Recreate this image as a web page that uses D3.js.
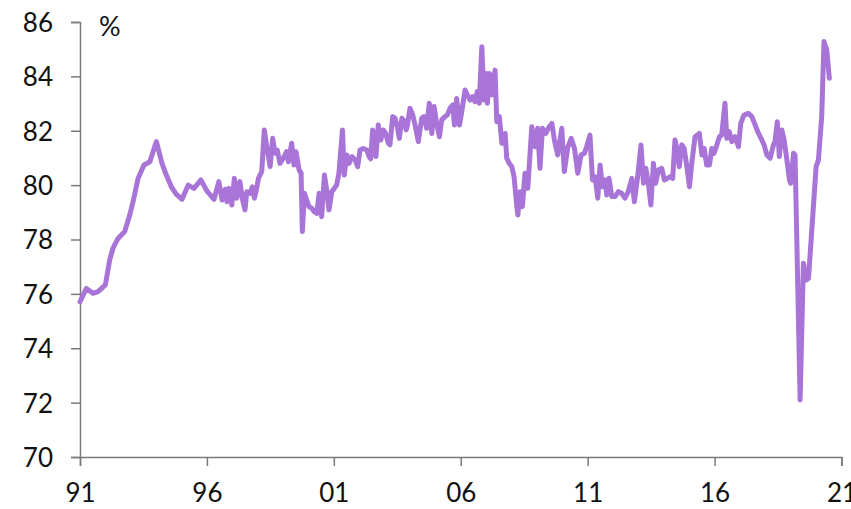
<!DOCTYPE html>
<html>
<head>
<meta charset="utf-8">
<script src="https://cdn.jsdelivr.net/npm/d3@7"></script>
<style>
  html, body { margin: 0; padding: 0; background: #ffffff; }
  svg { display: block; }
  text { font-family: Lato, "Noto Sans", sans-serif; fill: #111; }
</style>
</head>
<body>
<svg id="chart" width="851" height="509"></svg>
<script>
// Time (decimal year) of each vertex of the line
const years = [
  1991.00,1991.25,1991.51,1991.71,1992.00,1992.17,1992.30,1992.50,1992.76,1992.96,
  1993.09,1993.29,1993.52,1993.75,1994.01,1994.23,1994.40,1994.60,1994.79,1995.02,
  1995.26,1995.49,1995.76,1996.02,1996.28,1996.47,1996.60,1996.72,1996.79,1996.87,
  1996.98,1997.08,1997.17,1997.30,1997.39,1997.50,1997.57,1997.70,1997.79,1997.87,
  1997.96,1998.03,1998.16,1998.26,1998.36,1998.49,1998.59,1998.68,1998.77,1998.88,
  1999.01,1999.14,1999.21,1999.34,1999.43,1999.51,1999.63,1999.71,1999.76,1999.84,
  1999.93,2000.02,2000.13,2000.23,2000.33,2000.42,2000.52,2000.63,2000.72,2000.81,
  2000.92,2001.02,2001.11,2001.20,2001.34,2001.41,2001.51,2001.60,2001.71,2001.84,
  2001.94,2002.03,2002.16,2002.30,2002.39,2002.45,2002.53,2002.58,2002.66,2002.75,
  2002.85,2002.95,2003.04,2003.15,2003.21,2003.32,2003.41,2003.50,2003.58,2003.68,
  2003.74,2003.85,2003.90,2004.00,2004.11,2004.20,2004.33,2004.46,2004.55,2004.66,
  2004.76,2004.86,2004.95,2005.05,2005.16,2005.25,2005.38,2005.47,2005.58,2005.69,
  2005.75,2005.84,2005.95,2006.04,2006.17,2006.26,2006.37,2006.47,2006.56,2006.65,
  2006.73,2006.83,2006.92,2007.00,2007.05,2007.13,2007.22,2007.35,2007.42,2007.52,
  2007.62,2007.75,2007.81,2007.91,2008.01,2008.10,2008.21,2008.25,2008.34,2008.43,
  2008.53,2008.64,2008.80,2008.93,2009.03,2009.12,2009.22,2009.35,2009.45,2009.59,
  2009.69,2009.82,2009.98,2010.08,2010.22,2010.35,2010.48,2010.61,2010.74,2010.87,
  2010.96,2011.09,2011.19,2011.29,2011.40,2011.49,2011.58,2011.69,2011.75,2011.84,
  2011.95,2012.08,2012.21,2012.34,2012.47,2012.60,2012.74,2012.84,2012.97,2013.10,
  2013.20,2013.29,2013.39,2013.49,2013.59,2013.68,2013.79,2013.92,2014.02,2014.14,
  2014.25,2014.35,2014.44,2014.53,2014.61,2014.71,2014.80,2014.90,2015.01,2015.10,
  2015.23,2015.32,2015.40,2015.50,2015.59,2015.69,2015.80,2015.89,2015.98,2016.09,
  2016.19,2016.28,2016.41,2016.48,2016.58,2016.68,2016.81,2016.94,2017.03,2017.16,
  2017.33,2017.47,2017.60,2017.73,2017.86,2017.95,2018.06,2018.19,2018.32,2018.38,
  2018.47,2018.55,2018.65,2018.74,2018.85,2018.95,2019.00,2019.11,2019.17,2019.37,
  2019.50,2019.61,2019.70,2019.83,2020.00,2020.09,2020.22,2020.31,2020.42,2020.52
];
// Rate (%) at each vertex
const values = [
  75.71,76.20,76.02,76.08,76.33,77.25,77.68,78.04,78.29,78.90,
  79.39,80.25,80.74,80.86,81.60,80.80,80.37,79.94,79.67,79.48,
  80.00,79.88,80.19,79.76,79.48,80.13,79.45,79.85,79.39,79.88,
  79.27,80.25,79.52,80.13,79.52,79.09,79.76,79.70,79.94,79.52,
  79.88,80.25,80.50,82.03,81.41,80.68,81.72,81.17,81.29,80.80,
  80.99,81.23,80.86,81.54,80.74,81.23,80.56,80.44,78.29,79.70,
  79.45,79.21,79.15,79.02,78.96,79.70,78.84,80.37,79.82,79.09,
  79.76,79.88,80.00,80.44,82.03,80.37,81.11,80.80,81.05,80.92,
  80.68,81.29,81.35,81.29,81.05,80.97,82.03,81.54,81.05,82.21,
  81.66,82.03,81.90,81.54,81.48,82.52,82.46,82.15,81.72,82.46,
  82.40,82.03,82.21,82.83,82.58,82.21,81.60,82.46,82.52,82.09,
  83.01,81.90,82.89,82.27,81.78,82.40,82.52,82.58,82.83,82.95,
  82.21,83.19,82.21,82.70,83.50,83.32,83.13,83.25,83.07,83.44,
  83.01,85.09,83.13,84.11,83.01,84.11,83.32,84.23,82.33,82.52,
  81.54,81.90,80.99,80.80,80.68,80.31,79.21,78.90,79.76,79.21,
  80.44,79.88,82.15,81.41,82.09,80.62,82.09,81.90,82.09,82.27,
  81.66,81.11,82.09,80.50,81.41,81.72,81.35,80.44,81.11,81.17,
  81.41,81.84,80.19,80.31,79.52,80.74,79.94,80.19,79.64,80.25,
  79.58,79.58,79.76,79.70,79.52,79.76,80.25,79.39,80.31,81.48,
  80.07,80.62,80.07,79.27,80.80,80.07,80.56,80.62,80.19,80.25,
  80.31,80.25,81.66,81.29,80.68,81.48,81.35,80.74,79.94,80.80,
  81.78,81.84,81.90,81.11,81.35,80.74,80.74,81.35,81.17,81.48,
  81.78,81.84,83.01,81.72,81.97,81.60,81.78,81.41,82.27,82.58,
  82.64,82.52,82.21,81.90,81.66,81.48,81.11,80.99,81.48,81.60,
  82.33,81.05,82.03,81.66,80.92,80.19,80.07,81.17,81.11,72.10,
  77.13,76.51,76.57,78.35,80.68,80.92,82.52,85.28,84.97,83.93
];
const yTicks = [70, 72, 74, 76, 78, 80, 82, 84, 86];
const xTicks = [1991, 1996, 2001, 2006, 2011, 2016, 2021];
const xTickLabels = ["91", "96", "01", "06", "11", "16", "21"];
const unitLabel = "%";

const data = years.map((t, i) => ({ t, v: values[i] }));

const svg = d3.select("#chart");
const mLeft = 80, mRight = 841.5, mTop = 22, mBottom = 457;

const x = d3.scaleLinear().domain([1991, 2021]).range([mLeft, mRight]);
const y = d3.scaleLinear().domain([70, 86]).range([mBottom, mTop]);

const axisColor = "#7a7a7a";

// Y axis
const yAxis = svg.append("g")
  .attr("transform", `translate(${mLeft},0)`)
  .call(d3.axisLeft(y).tickValues(yTicks).tickSize(9).tickPadding(18).tickFormat(d3.format("d")));
yAxis.select(".domain").attr("stroke", axisColor).attr("stroke-width", 1.5);
yAxis.selectAll(".tick line").attr("stroke", axisColor).attr("stroke-width", 1.5);
yAxis.selectAll(".tick text")
  .attr("font-family", "Lato, 'Noto Sans', sans-serif")
  .attr("font-size", 26).attr("fill", "#111").attr("dy", "0.36em");

// X axis
const xAxis = svg.append("g")
  .attr("transform", `translate(0,${mBottom})`)
  .call(d3.axisBottom(x).tickValues(xTicks).tickSize(9).tickPadding(18)
    .tickFormat((d, i) => xTickLabels[i]));
xAxis.select(".domain").attr("stroke", axisColor).attr("stroke-width", 1.5);
xAxis.selectAll(".tick line").attr("stroke", axisColor).attr("stroke-width", 1.5);
xAxis.selectAll(".tick text")
  .attr("font-family", "Lato, 'Noto Sans', sans-serif")
  .attr("font-size", 26).attr("fill", "#111");

// Unit label
svg.append("text")
  .attr("x", 99).attr("y", 36)
  .attr("font-size", 27)
  .text(unitLabel);

// Line
const line = d3.line().x(d => x(d.t)).y(d => y(d.v));
svg.append("path")
  .datum(data)
  .attr("fill", "none")
  .attr("stroke", "#a874d8")
  .attr("stroke-width", 5)
  .attr("stroke-linejoin", "round")
  .attr("stroke-linecap", "round")
  .attr("d", line);
</script>
</body>
</html>
